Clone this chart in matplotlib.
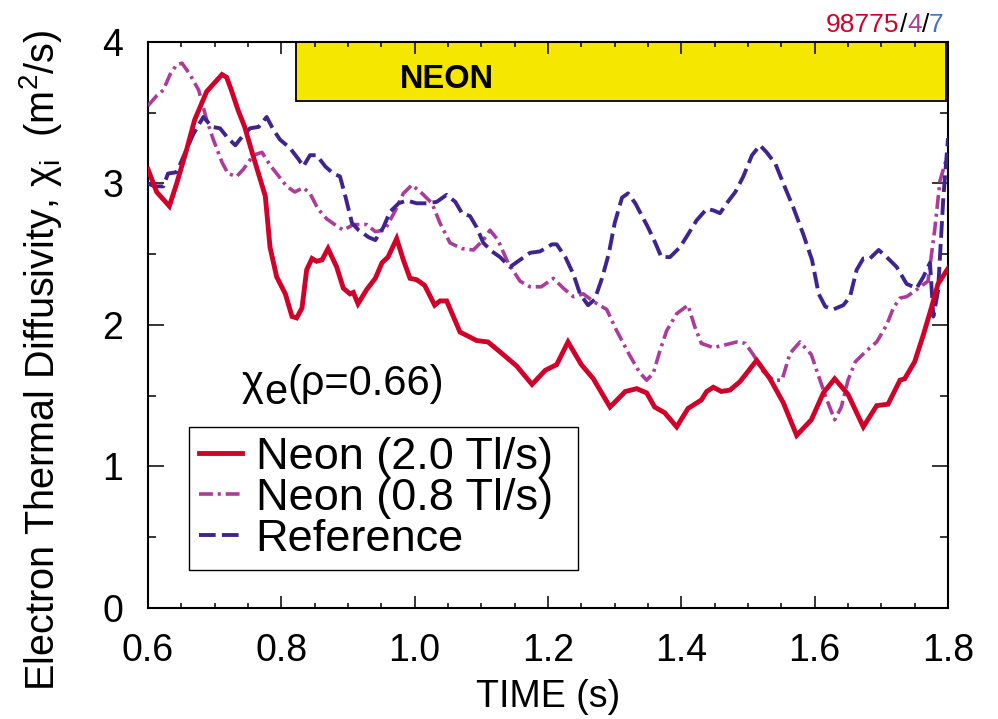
import matplotlib
matplotlib.use("Agg")
import matplotlib.pyplot as plt
from matplotlib.patches import Rectangle
from matplotlib.ticker import MultipleLocator
from matplotlib.transforms import offset_copy
from matplotlib import font_manager

# ---- data ----
t_neon20 = [0.600, 0.613, 0.632, 0.643, 0.658, 0.670, 0.688, 0.711, 0.718, 0.725,
            0.735, 0.745, 0.758, 0.776, 0.783, 0.793, 0.806, 0.816, 0.823, 0.831,
            0.838, 0.846, 0.853, 0.861, 0.870, 0.883, 0.893, 0.903, 0.908, 0.915,
            0.928, 0.941, 0.951, 0.960, 0.973, 0.983, 0.993, 1.003, 1.015, 1.030,
            1.038, 1.048, 1.058, 1.068, 1.093, 1.110, 1.128, 1.153, 1.176, 1.196,
            1.213, 1.230, 1.250, 1.268, 1.293, 1.316, 1.333, 1.348, 1.360, 1.375,
            1.393, 1.410, 1.430, 1.438, 1.448, 1.460, 1.473, 1.488, 1.513, 1.533,
            1.553, 1.573, 1.595, 1.613, 1.630, 1.650, 1.673, 1.693, 1.710, 1.728,
            1.735, 1.750, 1.763, 1.775, 1.785, 1.800]
chi_neon20 = [3.10, 2.94, 2.84, 3.00, 3.24, 3.45, 3.65, 3.77, 3.75, 3.66,
              3.52, 3.40, 3.19, 2.91, 2.55, 2.34, 2.22, 2.06, 2.05, 2.12,
              2.39, 2.47, 2.45, 2.46, 2.54, 2.41, 2.26, 2.22, 2.23, 2.15,
              2.25, 2.33, 2.44, 2.48, 2.61, 2.46, 2.33, 2.32, 2.28, 2.14,
              2.17, 2.17, 2.06, 1.95, 1.89, 1.88, 1.81, 1.71, 1.58, 1.68,
              1.72, 1.88, 1.72, 1.62, 1.42, 1.53, 1.55, 1.52, 1.42, 1.38,
              1.28, 1.41, 1.47, 1.53, 1.56, 1.53, 1.54, 1.60, 1.75, 1.62,
              1.45, 1.22, 1.33, 1.52, 1.62, 1.51, 1.28, 1.43, 1.44, 1.61,
              1.62, 1.74, 1.93, 2.12, 2.29, 2.40]

t_neon08 = [0.600, 0.613, 0.623, 0.633, 0.643, 0.651, 0.663, 0.676, 0.688, 0.698,
            0.711, 0.720, 0.733, 0.743, 0.758, 0.771, 0.783, 0.793, 0.808, 0.820,
            0.833, 0.843, 0.855, 0.868, 0.880, 0.893, 0.908, 0.928, 0.941, 0.955,
            0.970, 0.983, 0.996, 1.011, 1.026, 1.038, 1.053, 1.071, 1.088, 1.103,
            1.113, 1.125, 1.140, 1.158, 1.173, 1.190, 1.208, 1.223, 1.238, 1.253,
            1.270, 1.288, 1.303, 1.322, 1.338, 1.348, 1.358, 1.368, 1.378, 1.393,
            1.410, 1.420, 1.430, 1.448, 1.466, 1.483, 1.496, 1.508, 1.523, 1.538,
            1.551, 1.563, 1.578, 1.595, 1.608, 1.620, 1.630, 1.640, 1.650, 1.661,
            1.676, 1.693, 1.708, 1.718, 1.728, 1.738, 1.753, 1.770, 1.780, 1.788,
            1.800]
chi_neon08 = [3.55, 3.62, 3.66, 3.77, 3.84, 3.85, 3.77, 3.66, 3.45, 3.31,
              3.15, 3.07, 3.05, 3.10, 3.20, 3.22, 3.13, 3.07, 2.98, 2.94,
              2.97, 2.93, 2.82, 2.75, 2.71, 2.67, 2.71, 2.71, 2.66, 2.67,
              2.80, 2.93, 2.99, 2.93, 2.86, 2.72, 2.58, 2.54, 2.53, 2.60,
              2.67, 2.60, 2.44, 2.31, 2.27, 2.27, 2.33, 2.26, 2.20, 2.22,
              2.16, 2.11, 1.96, 1.79, 1.66, 1.61, 1.66, 1.82, 1.96, 2.08,
              2.14, 1.99, 1.87, 1.84, 1.86, 1.88, 1.87, 1.79, 1.67, 1.61,
              1.61, 1.80, 1.88, 1.79, 1.61, 1.45, 1.33, 1.42, 1.61, 1.74,
              1.81, 1.88, 2.00, 2.12, 2.19, 2.20, 2.25, 2.31, 2.67, 3.02,
              3.21]

t_ref = [0.600, 0.610, 0.623, 0.630, 0.643, 0.655, 0.668, 0.683, 0.696, 0.708,
         0.720, 0.731, 0.741, 0.753, 0.766, 0.778, 0.788, 0.798, 0.813, 0.826,
         0.833, 0.843, 0.853, 0.866, 0.878, 0.888, 0.896, 0.906, 0.916, 0.931,
         0.941, 0.953, 0.963, 0.976, 0.988, 1.003, 1.018, 1.033, 1.048, 1.061,
         1.071, 1.083, 1.093, 1.103, 1.116, 1.128, 1.143, 1.158, 1.173, 1.188,
         1.206, 1.213, 1.226, 1.238, 1.248, 1.260, 1.270, 1.281, 1.291, 1.300,
         1.311, 1.320, 1.331, 1.341, 1.350, 1.361, 1.370, 1.383, 1.398, 1.410,
         1.423, 1.438, 1.448, 1.458, 1.468, 1.481, 1.493, 1.506, 1.518, 1.528,
         1.541, 1.553, 1.568, 1.583, 1.596, 1.606, 1.616, 1.628, 1.643, 1.653,
         1.663, 1.673, 1.683, 1.696, 1.708, 1.723, 1.738, 1.753, 1.763, 1.773,
         1.778, 1.785, 1.793, 1.800]
chi_ref = [3.00, 2.98, 2.98, 3.07, 3.08, 3.21, 3.35, 3.47, 3.40, 3.39,
           3.32, 3.27, 3.33, 3.39, 3.40, 3.47, 3.38, 3.31, 3.25, 3.17,
           3.12, 3.20, 3.20, 3.12, 3.07, 3.05, 2.91, 2.72, 2.67, 2.62,
           2.60, 2.69, 2.80, 2.86, 2.88, 2.86, 2.86, 2.87, 2.92, 2.87,
           2.79, 2.77, 2.69, 2.58, 2.52, 2.48, 2.41, 2.46, 2.51, 2.52,
           2.57, 2.57, 2.48, 2.36, 2.22, 2.14, 2.18, 2.33, 2.50, 2.72,
           2.90, 2.93, 2.86, 2.77, 2.69, 2.58, 2.48, 2.48, 2.55, 2.64,
           2.74, 2.82, 2.81, 2.79, 2.86, 2.94, 3.05, 3.20, 3.27, 3.22,
           3.14, 3.00, 2.83, 2.64, 2.46, 2.22, 2.13, 2.11, 2.14, 2.20,
           2.39, 2.47, 2.47, 2.53, 2.48, 2.41, 2.29, 2.26, 2.34, 2.44,
           2.06, 2.24, 2.90, 3.32]

series_labels = ["Neon (2.0 Tl/s)", "Neon (0.8 Tl/s)", "Reference"]
x_ticks = [0.6, 0.8, 1.0, 1.2, 1.4, 1.6, 1.8]
y_ticks = [0, 1, 2, 3, 4]
neon_window = (0.822, 1.797)   # time range of the yellow NEON bar

RED = "#d0022a"
PURPLE = "#ac3c9a"
BLUE = "#3f2490"
YELLOW = "#f5e700"

plt.rcParams["font.family"] = ["Liberation Sans", "DejaVu Sans"]
plt.rcParams["mathtext.fontset"] = "custom"
plt.rcParams["mathtext.rm"] = "Liberation Sans"
plt.rcParams["mathtext.it"] = "Liberation Sans:italic"
plt.rcParams["lines.scale_dashes"] = False

installed = {f.name for f in font_manager.fontManager.ttflist}
if "Liberation Sans Narrow" in installed:
    neon_font = dict(family="Liberation Sans Narrow", size=28.5)
else:
    neon_font = dict(family="Liberation Sans", size=23.5)

fig = plt.figure(figsize=(9.98, 7.19), dpi=100)
ax = fig.add_axes([0.1483, 0.1544, 0.8016, 0.7872])

l_08, = ax.plot(t_neon08, chi_neon08, color=PURPLE, lw=2.6, dashes=(10, 3.5, 2.2, 3.5),
                label=series_labels[1], zorder=3)
l_ref, = ax.plot(t_ref, chi_ref, color=BLUE, lw=2.8, dashes=(12, 4.5),
                 label=series_labels[2], zorder=4)
l_20, = ax.plot(t_neon20, chi_neon20, color=RED, lw=3.5, solid_joinstyle="miter",
                label=series_labels[0], zorder=5)

ax.add_patch(Rectangle((neon_window[0], 3.585), neon_window[1] - neon_window[0], 0.415,
                       facecolor=YELLOW, edgecolor="black", lw=1.3, zorder=1))
ax.text(1.049, 3.672, "NEON", ha="center", va="baseline", fontweight="bold",
        color="black", zorder=6, **neon_font)

ax.set_xlim(0.6, 1.8)
ax.set_ylim(0, 4)
ax.set_xticks(x_ticks)
ax.set_xticklabels([f"{v:.1f}" for v in x_ticks])
ax.set_yticks(y_ticks)
ax.xaxis.set_minor_locator(MultipleLocator(0.05))
ax.yaxis.set_minor_locator(MultipleLocator(0.5))
ax.tick_params(which="both", direction="in", top=True, right=True, width=1.1,
               labelsize=27)
ax.tick_params(axis="x", which="major", length=8.5, pad=18)
ax.tick_params(axis="x", which="minor", length=3.5)
ax.tick_params(axis="y", which="major", length=11.5, pad=18)
ax.tick_params(axis="y", which="minor", length=6)
for s in ax.spines.values():
    s.set_linewidth(1.5)

ax.set_xlabel("TIME (s)", fontsize=27)
ax.xaxis.set_label_coords(0.5, -0.157)
ax.xaxis.label.set_va("center")
ax.set_ylabel(r"Electron Thermal Diffusivity, χ$_{\mathrm{i}}$  (m$^{2}$/s)",
              fontsize=28.5)
ax.yaxis.set_label_coords(-0.135, 0.438)
ax.yaxis.label.set_va("center")

leg = ax.legend(handles=[l_20, l_08, l_ref], loc="upper left",
                bbox_to_anchor=(0.0516, 0.0, 0.486, 0.3203), mode="expand",
                prop=dict(size=32.5), labelspacing=0.0, handlelength=0.95,
                handletextpad=0.3, borderpad=0.22, borderaxespad=0,
                fancybox=False, framealpha=1)
leg.get_frame().set_edgecolor("black")
leg.get_frame().set_linewidth(1.0)

fig.canvas.draw()
renderer = fig.canvas.get_renderer()


def run_of_text(x, y, pieces, size, transform):
    # lay text pieces side by side on one baseline; dy lowers a piece (pixels)
    dx = 0.0
    for txt, col, dy in pieces:
        t = fig.text(x, y, txt, color=col, fontsize=size, ha="left", va="baseline",
                     transform=offset_copy(transform, fig, x=dx, y=dy, units="dots"))
        dx += t.get_window_extent(renderer).width


# chi_e(rho=0.66) label, subscript kept at full size like the original
run_of_text(0.741, 1.505, [("χ", "black", 0), ("e", "black", -9),
                           ("(ρ=0.66)", "black", 0)], 30, ax.transData)

# shot / run stamp in the top right corner
run_of_text(0.8277, 0.956, [("98775", RED, 0), ("/", "black", 0), ("4", PURPLE, 0),
                            ("/", "black", 0), ("7", "#4a6fc0", 0)], 19, fig.transFigure)

fig.savefig("out.png", dpi=100)
